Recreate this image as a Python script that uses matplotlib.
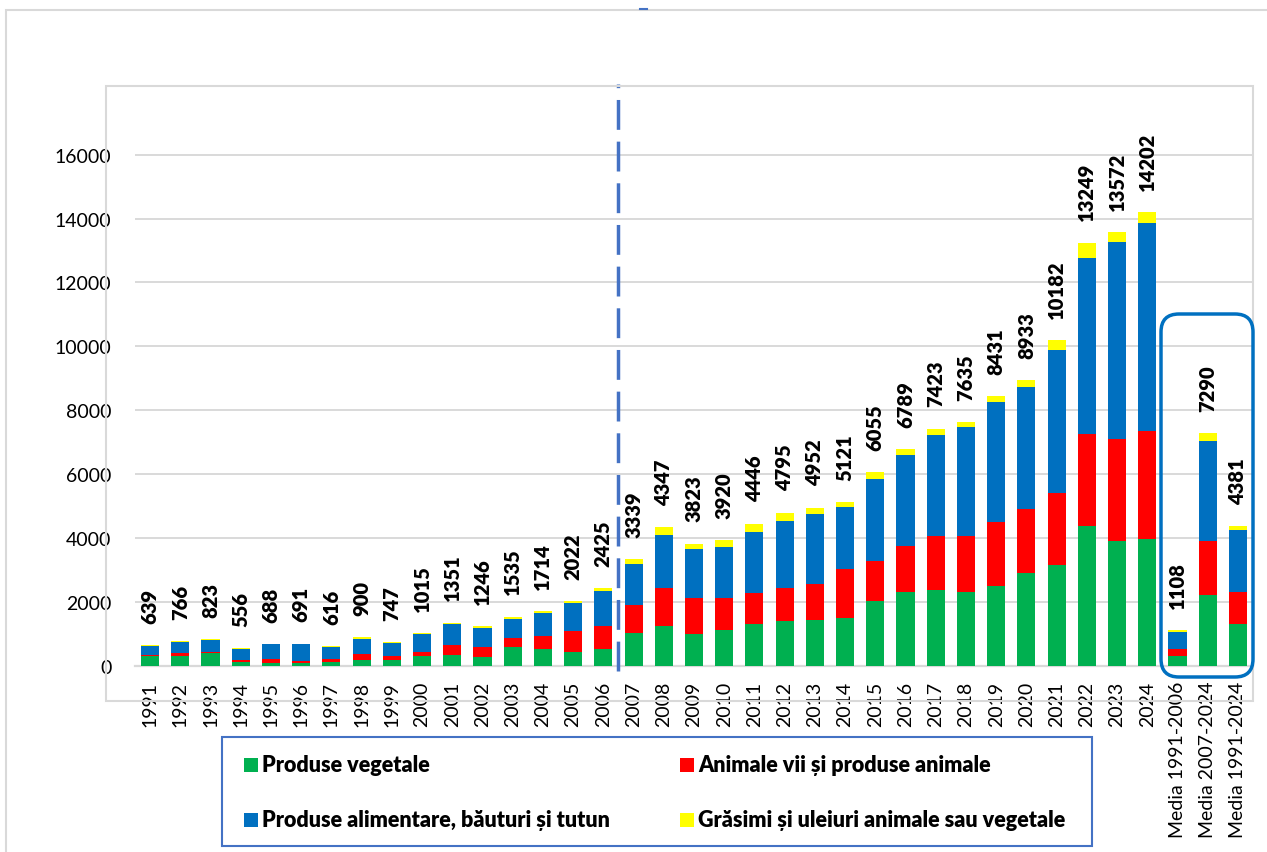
import matplotlib
matplotlib.use("Agg")
import matplotlib.pyplot as plt
from matplotlib.patches import Rectangle, FancyBboxPatch
from matplotlib.lines import Line2D
import numpy as np

plt.rcParams['font.family'] = ['Lato', 'DejaVu Sans']

# categorii: anii + mediile
categories = ["1991", "1992", "1993", "1994", "1995", "1996", "1997", "1998", "1999",
              "2000", "2001", "2002", "2003", "2004", "2005", "2006", "2007", "2008",
              "2009", "2010", "2011", "2012", "2013", "2014", "2015", "2016", "2017",
              "2018", "2019", "2020", "2021", "2022", "2023", "2024",
              "Media 1991-2006", "Media 2007-2024", "Media 1991-2024"]

vegetale = [300, 315, 385, 110, 100, 90, 120, 185, 185, 290, 350, 270, 580, 520, 420, 520,
            1010, 1235, 988, 1124, 1300, 1393, 1437, 1498, 2018, 2312, 2373, 2301, 2500,
            2905, 3157, 4364, 3908, 3979, 298, 2217, 1313]
animale = [35, 75, 55, 75, 95, 70, 75, 185, 105, 140, 310, 330, 275, 405, 660, 720,
           885, 1195, 1124, 988, 986, 1037, 1112, 1540, 1255, 1432, 1694, 1767, 1987,
           1995, 2247, 2882, 3177, 3383, 235, 1684, 998]
alimentare = [290, 356, 355, 340, 473, 511, 390, 480, 427, 555, 650, 580, 615, 725, 870, 1110,
              1295, 1676, 1544, 1598, 1909, 2114, 2194, 1916, 2583, 2846, 3158, 3400, 3756,
              3824, 4495, 5523, 6184, 6485, 533, 3148, 1933]
grasimi = [14, 20, 28, 31, 20, 20, 31, 50, 30, 30, 41, 66, 65, 64, 72, 75,
           149, 241, 167, 210, 251, 251, 209, 167, 199, 199, 198, 167, 188,
           209, 283, 480, 303, 355, 42, 241, 137]
totals = [639, 766, 823, 556, 688, 691, 616, 900, 747, 1015, 1351, 1246, 1535, 1714, 2022, 2425,
          3339, 4347, 3823, 3920, 4446, 4795, 4952, 5121, 6055, 6789, 7423, 7635, 8431,
          8933, 10182, 13249, 13572, 14202, 1108, 7290, 4381]

series = [
    ("Produse vegetale", vegetale, "#00B050"),
    ("Animale vii și produse animale", animale, "#FF0000"),
    ("Produse alimentare, băuturi și tutun", alimentare, "#0070C0"),
    ("Grăsimi și uleiuri animale sau vegetale", grasimi, "#FFFF00"),
]

W, H = 1267, 853
fig = plt.figure(figsize=(W / 100, H / 100), dpi=100)
ax = fig.add_axes([135 / W, 1 - 666.7 / H, (1253 - 135) / W, (666.7 - 87) / H])

x = np.arange(len(categories))
bottom = np.zeros(len(categories))
for name, vals, col in series:
    ax.bar(x, vals, 0.6, bottom=bottom, color=col, label=name, zorder=3)
    bottom += np.array(vals)

for xi, top, t in zip(x, bottom, totals):
    ax.annotate(str(t), (xi, top), xytext=(0, 16), textcoords="offset points",
                rotation=90, ha="center", va="bottom", fontsize=14.5, fontweight="heavy",
                color="black", zorder=5)

ax.set_xlim(-0.5, len(categories) - 0.5)
ax.set_ylim(0, 18150)
ax.set_yticks(range(0, 16001, 2000))
ax.yaxis.grid(True, color="#D9D9D9", lw=1.4, zorder=0)
ax.axhline(0, color="#D9D9D9", lw=1.6, clip_on=False, zorder=2)
ax.set_axisbelow(True)
for s in ax.spines.values():
    s.set_visible(False)
ax.set_xticks(x, categories, rotation=90, fontsize=14)
ax.tick_params(axis="x", length=0, pad=11)
ax.tick_params(axis="y", length=0, pad=17, labelsize=14)

# linia punctată între 2006 și 2007
ax.plot([15.5, 15.5], [-170, 18200], color="#4472C4", lw=2.5,
        linestyle=(0, (8.6, 3.4)), clip_on=False, zorder=4)

# chenare (coordonate în pixeli)
def box(x0, y0, x1, y1, **kw):
    return Rectangle((x0, H - y1), x1 - x0, y1 - y0, transform=None, fill=False, **kw)

fig.patches.append(box(6, 11, 1300, 900, edgecolor="#D9D9D9", lw=1.5))
fig.patches.append(box(106, 87, 1253, 702, edgecolor="#D9D9D9", lw=1.5, zorder=0))
fig.lines.append(Line2D([640, 647], [H - 9.5, H - 9.5], transform=None, color="#4472C4", lw=1.5))

rb = FancyBboxPatch((1161, H - 678), 1253 - 1161, 678 - 315,
                    boxstyle="round,pad=0,rounding_size=18", transform=None,
                    fill=False, edgecolor="#0070C0", lw=2.5, zorder=6)
fig.patches.append(rb)

# legenda
fig.patches.append(box(222, 738, 1092, 847, edgecolor="#4472C4", lw=1.5))
leg_pos = [(244, 766), (680, 766), (244, 821), (680, 821)]
for (lx, ly), (name, vals, col) in zip(leg_pos, series):
    fig.patches.append(Rectangle((lx, H - ly - 7), 14, 14, transform=None,
                                 facecolor=col, edgecolor="none"))
    fig.text((lx + 18) / W, 1 - ly / H, name, ha="left", va="center",
             fontsize=15.5, fontweight="heavy")

fig.savefig("out.png", dpi=100)
